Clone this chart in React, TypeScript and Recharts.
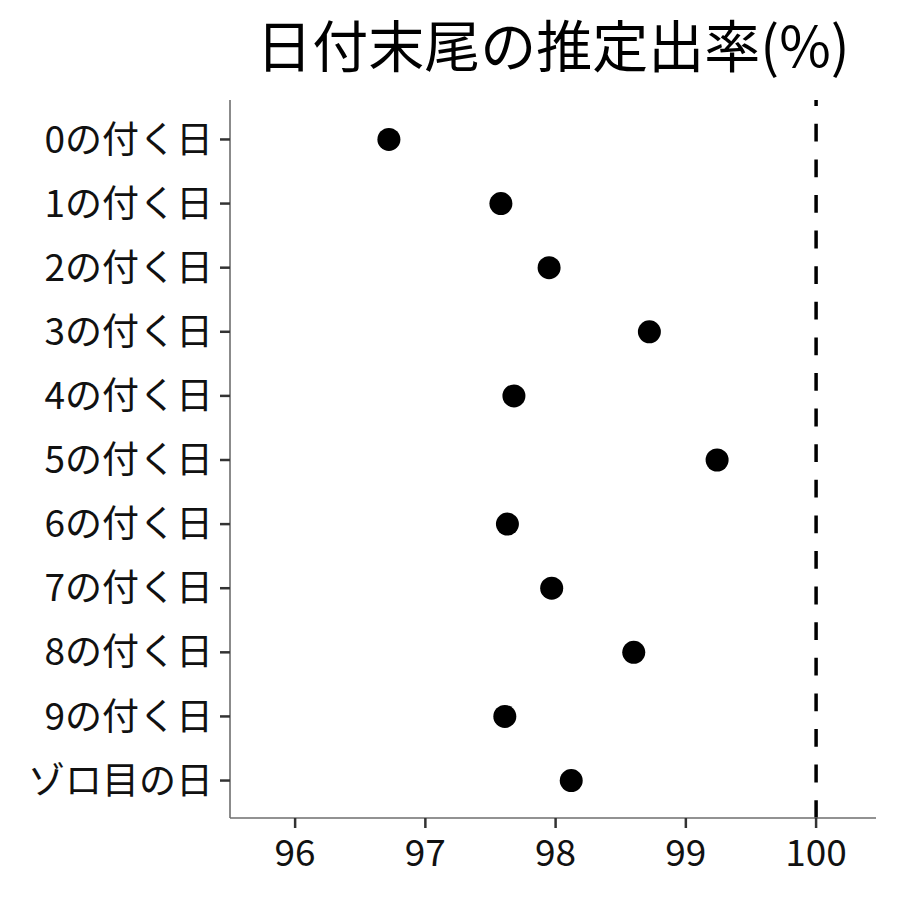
import React from "react";
import { ScatterChart, Scatter, XAxis, YAxis, ReferenceLine } from "recharts";

const categories = [
  "0の付く日",
  "1の付く日",
  "2の付く日",
  "3の付く日",
  "4の付く日",
  "5の付く日",
  "6の付く日",
  "7の付く日",
  "8の付く日",
  "9の付く日",
  "ゾロ目の日",
];
const rates = [96.72, 97.58, 97.95, 98.72, 97.68, 99.24, 97.63, 97.97, 98.6, 97.61, 98.12];
const xTicks = [96, 97, 98, 99, 100];
const xDomain = [95.5, 100.46];
const referenceValue = 100;
const title = "日付末尾の推定出率(%)";

const data = categories.map((name, i) => ({ name, rate: rates[i] }));

const FONT = "'Noto Sans CJK JP', 'Noto Sans', sans-serif";

const Dot = (props: any) => {
  const { cx, cy } = props;
  if (cx == null || cy == null) return null;
  return <circle cx={cx} cy={cy} r={11.5} fill="#000" />;
};

export default function App() {
  return (
    <div style={{ position: "absolute", left: 0, top: 0, width: 900, height: 900, background: "#fff" }}>
      <ScatterChart
        width={900}
        height={900}
        margin={{ top: 100, right: 24, bottom: 0, left: 0 }}
        style={{ fontFamily: FONT }}
      >
        <XAxis
          type="number"
          dataKey="rate"
          domain={xDomain}
          ticks={xTicks}
          allowDataOverflow
          height={82}
          tickSize={10}
          tickMargin={12}
          axisLine={{ stroke: "#6e6e6e", strokeWidth: 1.6 }}
          tickLine={{ stroke: "#333", strokeWidth: 2.5 }}
          tick={{ fill: "#111", fontSize: 37, fontFamily: FONT }}
        />
        <YAxis
          type="category"
          dataKey="name"
          allowDuplicatedCategory={false}
          width={230}
          reversed
          padding={{ top: 7.4, bottom: 5.4 }}
          tickSize={10}
          tickMargin={7}
          axisLine={{ stroke: "#6e6e6e", strokeWidth: 1.6 }}
          tickLine={{ stroke: "#333", strokeWidth: 2.5 }}
          tick={{ fill: "#111", fontSize: 37, fontFamily: FONT }}
          interval={0}
        />
        <ReferenceLine
          x={referenceValue}
          stroke="#000"
          strokeWidth={3.5}
          strokeDasharray="17.8 17.8"
        />
        <Scatter data={data} shape={<Dot />} isAnimationActive={false} />
      </ScatterChart>
      <svg width={900} height={100} style={{ position: "absolute", left: 0, top: 0, pointerEvents: "none" }}>
        <text x={553} y={67} textAnchor="middle" fontSize={56} fontFamily={FONT} fill="#000">
          {title}
        </text>
      </svg>
    </div>
  );
}
